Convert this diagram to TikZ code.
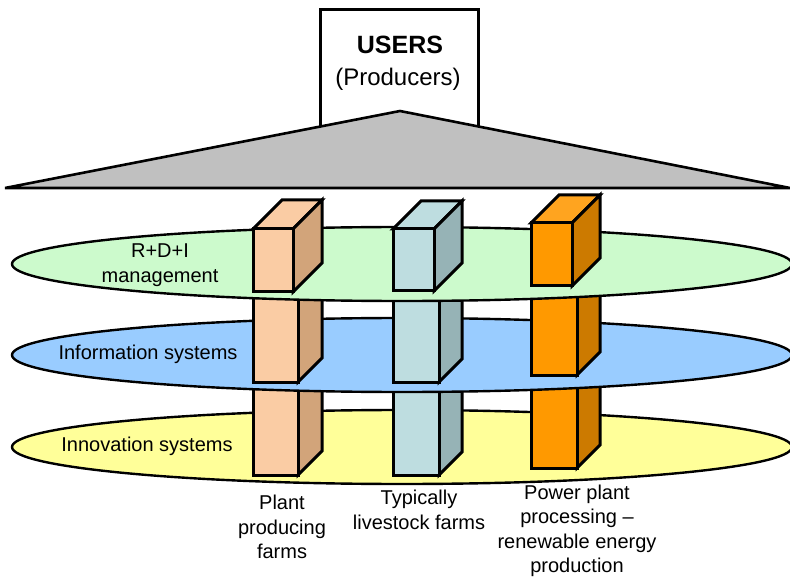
\documentclass[tikz,border=0pt]{standalone}
\usepackage{fontspec}
\setmainfont{Liberation Sans}
\usetikzlibrary{shapes.geometric}
\definecolor{peachF}{HTML}{FACCA4}
\definecolor{peachS}{HTML}{D2A47A}
\definecolor{lblueF}{HTML}{BEDDE0}
\definecolor{lblueS}{HTML}{96B3B6}
\definecolor{orangeF}{HTML}{FF9900}
\definecolor{orangeS}{HTML}{CC7A00}
\definecolor{orangeT}{HTML}{FFA41F}
\definecolor{layG}{HTML}{CCFACC}
\definecolor{layB}{HTML}{99CCFF}
\definecolor{layY}{HTML}{FFFF99}
\definecolor{roofgray}{HTML}{C0C0C0}
\tikzset{
  facestyle/.style={draw=black, line width=3pt, line join=miter},
  layer/.style={ellipse, draw=black, line width=2.4pt, minimum width=780pt, minimum height=74pt, inner sep=0pt},
  lbl/.style={font=\fontsize{20}{24.5}\selectfont, align=center, inner sep=0pt, text=black}
}
% segment: #1 x-left, #2 y-top, #3 y-bottom, #4 width, #5 depth, #6 front colour, #7 side colour
\newcommand{\pillarseg}[7]{%
  \filldraw[facestyle, fill=#7] (#1+#4,#2) -- ++(#5,-#5) -- (#1+#4+#5,#3-#5) -- (#1+#4,#3) -- cycle;
  \filldraw[facestyle, fill=#6] (#1,#2) rectangle (#1+#4,#3);
}
% cube: #1 x-left, #2 y-top, #3 y-bottom, #4 width, #5 depth, #6 front, #7 side, #8 top
\newcommand{\topcube}[8]{%
  \filldraw[facestyle, fill=#8] (#1,#2) -- ++(#5,-#5) -- ++(#4,0) -- (#1+#4,#2) -- cycle;
  \filldraw[facestyle, fill=#7] (#1+#4,#2) -- ++(#5,-#5) -- (#1+#4+#5,#3-#5) -- (#1+#4,#3) -- cycle;
  \filldraw[facestyle, fill=#6] (#1,#2) rectangle (#1+#4,#3);
}
\begin{document}
\begin{tikzpicture}[x=1pt,y=-1pt]
\useasboundingbox (0,0) rectangle (790,577);
% users box and roof
\node[draw=black, line width=3pt, fill=white, minimum width=158pt, minimum height=125pt, inner sep=0pt] (users) at (399,72) {};
\node[font=\fontsize{25}{28}\selectfont\bfseries, inner sep=0pt] (userst) at (400,45) {USERS};
\node[font=\fontsize{24}{28}\selectfont, inner sep=0pt] (prod) at (398,79) {(Producers)};
\coordinate (apex) at (400,111);
\coordinate (bl) at (5,188);
\coordinate (br) at (790,188);
\filldraw[fill=roofgray, draw=black, line width=2.6pt, line join=miter] (apex) -- (br) -- (bl) -- cycle;
% bottom layer
\node[layer, fill=layY] (innov) at (402,447) {};
\pillarseg{253}{380}{475}{45}{24}{peachF}{peachS}
\pillarseg{393}{380}{475}{46}{23}{lblueF}{lblueS}
\pillarseg{531}{373}{468}{46}{23}{orangeF}{orangeS}
% middle layer
\node[layer, fill=layB] (info) at (402,355) {};
\pillarseg{253}{290}{382}{45}{24}{peachF}{peachS}
\pillarseg{393}{290}{382}{46}{23}{lblueF}{lblueS}
\pillarseg{531}{284}{375}{46}{23}{orangeF}{orangeS}
% top layer
\node[layer, fill=layG] (rdi) at (402,264) {};
\topcube{253}{229}{292}{40}{29}{peachF}{peachS}{peachF}
\topcube{393}{229}{291}{41}{28}{lblueF}{lblueS}{lblueF}
\topcube{531}{223}{286}{41}{28}{orangeF}{orangeS}{orangeT}
% labels
\node[lbl] (rdit) at (160,265) {R+D+I\\management};
\node[lbl] (infot) at (148,354) {Information systems};
\node[lbl] (innovt) at (147,446) {Innovation systems};
\node[lbl] (plant) at (282,527) {Plant\\producing\\farms};
\node[lbl] (live) at (419,510) {Typically\\livestock farms};
\node[lbl] (power) at (577,531) {Power plant\\processing –\\renewable energy\\production};
\end{tikzpicture}
\end{document}
